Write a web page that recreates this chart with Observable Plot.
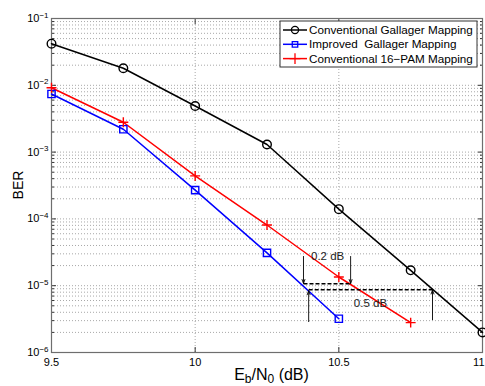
<!DOCTYPE html>
<html><head><meta charset="utf-8">
<script src="https://cdn.jsdelivr.net/npm/d3@7"></script>
<script src="https://cdn.jsdelivr.net/npm/@observablehq/plot@0.6"></script>
<style>
body{margin:0;background:#fff;}
svg{font-family:"Liberation Sans",Arial,Helvetica,sans-serif;}
</style>
</head><body><div id="chart"></div>
<script>
// ---- data ----
const ebn0 = [9.5, 9.75, 10, 10.25, 10.5, 10.75, 11];
const berGallager = [4.2e-2, 1.8e-2, 4.9e-3, 1.3e-3, 1.4e-4, 1.7e-5, 2.0e-6];
const berImproved = [7.4e-3, 2.2e-3, 2.7e-4, 3.1e-5, 3.2e-6];
const berPam16    = [9.2e-3, 2.8e-3, 4.4e-4, 8.1e-5, 1.35e-5, 2.8e-6];
const seriesNames = ["Conventional Gallager Mapping", "Improved  Gallager Mapping", "Conventional 16\u2212PAM Mapping"];
const seriesColors = ["#000000", "#0000ff", "#ff0000"];
const seriesSymbols = ["circle", "square", "plus"];
const xTicks = [9.5, 10, 10.5, 11];
const yMajor = [1e-1, 1e-2, 1e-3, 1e-4, 1e-5, 1e-6];
const yMinorMult = [2, 3, 4, 5, 6, 7, 8, 9];
// annotation (gap markers)
const downArrows = [{x: 10.377, y1: 2.74e-5, y2: 1.08e-5}, {x: 10.541, y1: 2.74e-5, y2: 1.08e-5}];
const upArrows   = [{x: 10.395, y1: 2.9e-6, y2: 8.4e-6}, {x: 10.826, y1: 3.1e-6, y2: 8.6e-6}];
const dashLines  = [{x1: 10.377, x2: 10.541, y: 1.07e-5}, {x1: 10.395, x2: 10.826, y: 8.7e-6}];
const gapLabels  = [{x: 10.461, y: 2.74e-5, text: "0.2 dB"}, {x: 10.61, y: 5.4e-6, text: "0.5 dB"}];

const seriesValues = [berGallager, berImproved, berPam16];
const series = seriesNames.map((name, i) => ({
  name, color: seriesColors[i], symbol: seriesSymbols[i],
  data: seriesValues[i].map((v, j) => ({x: ebn0[j], y: v}))
}));
const yMinor = [];
for (let k = -6; k <= -2; k++) for (const m of yMinorMult) yMinor.push(m * Math.pow(10, k));
const yAll = yMajor.concat(yMinor);

const dotR = {circle: 4.3, square: 4.1, plus: 3.3};

const marks = [
  Plot.gridY(yAll, {stroke: "#a8a8a8", strokeOpacity: 1, strokeDasharray: "1,2"}),
  Plot.gridX(xTicks.slice(1, -1), {stroke: "#a8a8a8", strokeOpacity: 1, strokeDasharray: "1,2"}),
  Plot.axisY(yMajor, {anchor: "left", tickSize: 0, tickPadding: 3, fontSize: 11, tickFormat: d => "10^" + Math.round(Math.log10(d)), label: null}),
  Plot.axisY(yMajor, {anchor: "left", tickSize: -5, text: null, label: null, stroke: "#333"}),
  Plot.axisY(yMinor, {anchor: "left", tickSize: -3, text: null, label: null, stroke: "#333"}),
  Plot.axisY(yMajor, {anchor: "right", tickSize: -5, text: null, label: null, stroke: "#333"}),
  Plot.axisY(yMinor, {anchor: "right", tickSize: -3, text: null, label: null, stroke: "#333"}),
  Plot.axisX(xTicks, {anchor: "bottom", tickSize: 0, tickPadding: 6, fontSize: 11, tickFormat: d => String(d), label: null}),
  Plot.axisX(xTicks, {anchor: "bottom", tickSize: -5, text: null, label: null, stroke: "#333"}),
  Plot.axisX(xTicks, {anchor: "top", tickSize: -5, text: null, label: null, stroke: "#333"}),
  Plot.frame({stroke: "#6e6e6e", strokeWidth: 1.2}),
];
for (const s of series) {
  marks.push(Plot.line(s.data, {x: "x", y: "y", stroke: s.color, strokeWidth: 1.5}));
}
for (const s of series) {
  marks.push(Plot.dot(s.data, {x: "x", y: "y", symbol: () => s.symbol, r: dotR[s.symbol], stroke: s.color, fill: "none", strokeWidth: 1.4}));
}
marks.push(
  Plot.link(dashLines, {x1: "x1", x2: "x2", y1: "y", y2: "y", stroke: "#000", strokeWidth: 1.3, strokeDasharray: "4,2"}),
  Plot.arrow(downArrows, {x1: "x", x2: "x", y1: "y1", y2: "y2", stroke: "#000", strokeWidth: 0.9, headLength: 7, headAngle: 40}),
  Plot.arrow(upArrows, {x1: "x", x2: "x", y1: "y1", y2: "y2", stroke: "#000", strokeWidth: 0.9, headLength: 7, headAngle: 40}),
  Plot.text(gapLabels, {x: "x", y: "y", text: "text", fontSize: 11.5, fill: "#222", textAnchor: "middle"})
);

const chart = Plot.plot({
  width: 485, height: 386,
  marginLeft: 51, marginRight: 3, marginTop: 18, marginBottom: 34,
  style: {fontFamily: "Liberation Sans, Arial, Helvetica, sans-serif", fontSize: "11px", background: "#fff", color: "#000", overflow: "visible"},
  x: {domain: [9.5, 11]},
  y: {type: "log", domain: [1e-6, 1e-1]},
  marks
});
document.getElementById("chart").appendChild(chart);

const svg = d3.select(chart);
// superscript exponents on y tick labels; keep last x label inside
svg.selectAll("text").each(function() {
  const t = d3.select(this);
  const txt = t.text();
  const m = /^10\^(-?\d+)$/.exec(txt);
  if (m) {
    t.text("");
    t.append("tspan").text("10");
    t.append("tspan").attr("dy", "-0.55em").attr("font-size", "8px").text("\u2212" + m[1].replace("-", ""));
  } else if (txt === "11") {
    t.attr("text-anchor", "end").attr("dx", "2");
  }
});
// axis labels
const W = 485, H = 386, mL = 51, mR = 3, mT = 18, mB = 34;
const xl = svg.append("text").attr("x", mL + (W - mL - mR) / 2 + 5).attr("y", H - 6)
  .attr("text-anchor", "middle").attr("font-size", "16px").attr("fill", "#000");
xl.append("tspan").text("E");
xl.append("tspan").attr("dy", "3").attr("font-size", "12px").text("b");
xl.append("tspan").attr("dy", "-3").text("/N");
xl.append("tspan").attr("dy", "3").attr("font-size", "12px").text("0");
xl.append("tspan").attr("dy", "-3").text(" (dB)");
svg.append("text").attr("transform", `translate(23,${mT + (H - mT - mB) / 2}) rotate(-90)`)
  .attr("text-anchor", "middle").attr("font-size", "14px").attr("fill", "#000").text("BER");

// legend
const lg = svg.append("g").attr("transform", "translate(280,21)");
lg.append("rect").attr("width", 197).attr("height", 46).attr("fill", "#fff").attr("stroke", "#333").attr("stroke-width", 1);
series.forEach((s, i) => {
  const yy = 9 + i * 14.3;
  lg.append("line").attr("x1", 3).attr("x2", 27).attr("y1", yy).attr("y2", yy).attr("stroke", s.color).attr("stroke-width", 1.5);
  const sym = {circle: d3.symbolCircle, square: d3.symbolSquare, plus: d3.symbolPlus}[s.symbol];
  const size = s.symbol === "circle" ? 40 : s.symbol === "square" ? 30 : 40;
  lg.append("path").attr("d", d3.symbol(sym, size)()).attr("transform", `translate(15,${yy})`)
    .attr("fill", "none").attr("stroke", s.color).attr("stroke-width", 1.3);
  lg.append("text").attr("x", 29).attr("y", yy).attr("dy", "0.35em").attr("font-size", "11.7px").attr("fill", "#000")
    .attr("text-anchor", "start").style("white-space", "pre").text(s.name);
});
</script>
</body></html>
